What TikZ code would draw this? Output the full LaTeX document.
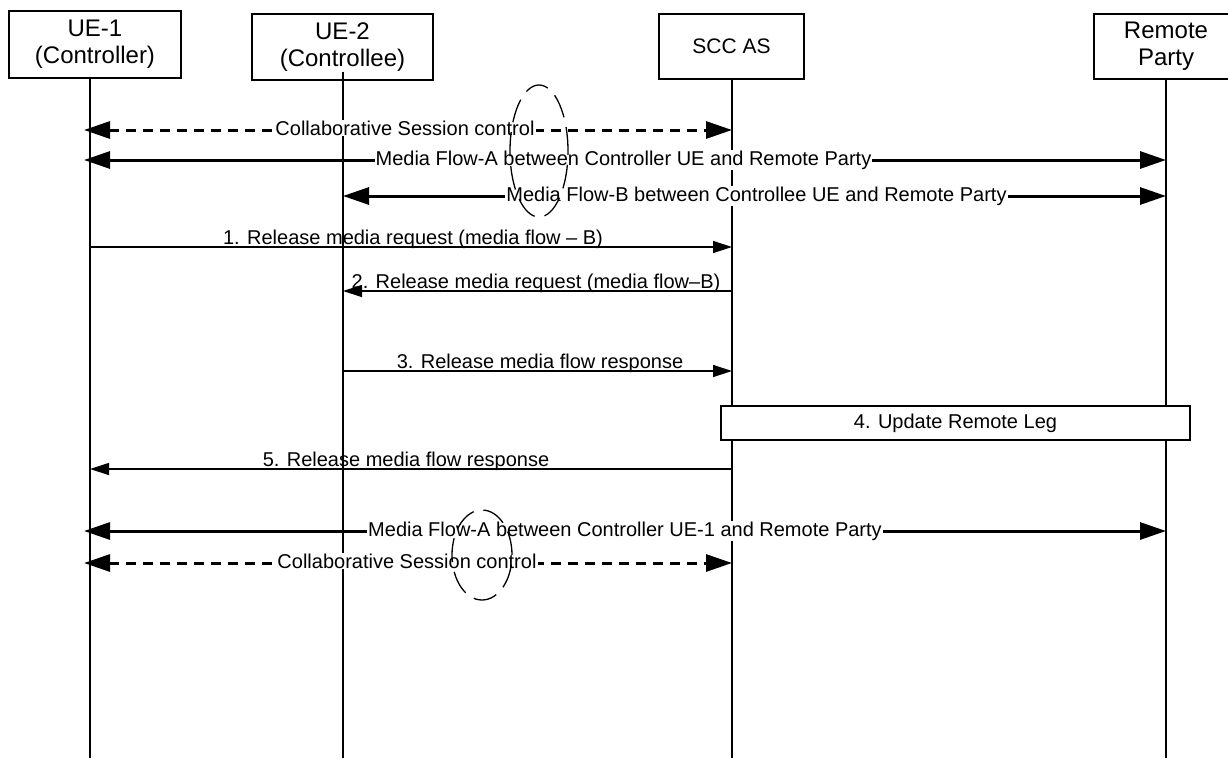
\documentclass[tikz,border=0pt]{standalone}
\usepackage{fontspec}
\setmainfont{Liberation Sans}
\usetikzlibrary{arrows.meta, positioning}

\begin{document}
\begin{tikzpicture}[x=1pt, y=-1pt, >={Triangle[length=26pt, width=17pt]}]
    \tikzstyle{entity} = [rectangle, draw, line width=1.2pt, fill=white, align=center, inner sep=0pt, font=\fontsize{24}{27}\selectfont]
    \tikzstyle{lifeline} = [line width=1.6pt]
    \tikzstyle{flow} = [line width=3pt, <->]
    \tikzstyle{control} = [line width=3pt, <->, dash pattern=on 10pt off 7pt]
    \tikzstyle{flowlabel} = [anchor=base, fill=white, inner sep=1pt, font=\fontsize{20}{24}\selectfont]
    \tikzstyle{msg} = [line width=1.2pt, ->, >={Triangle[length=19pt, width=12pt]}]
    \tikzstyle{msglabel} = [anchor=base, inner sep=0pt, font=\fontsize{20}{24}\selectfont]
    \tikzstyle{marker} = [line width=1.3pt, dash pattern=on 24pt off 10pt]

    \useasboundingbox (0,0) rectangle (1228,758);

    \node [entity, minimum width=172pt, minimum height=67pt] (ue1) at (95,44.5) {UE-1\\(Controller)};
    \node [entity, minimum width=181pt, minimum height=66pt] (ue2) at (342.5,47) {UE-2\\(Controllee)};
    \node [entity, minimum width=145pt, minimum height=65pt, font=\fontsize{21}{25}\selectfont] (scc) at (731.5,46.5) {SCC AS};
    \node [entity, minimum width=144pt, minimum height=65pt] (rp) at (1166,46.5) {Remote\\Party};

    \coordinate (l1) at (90,78);
    \coordinate (l2) at (343,72);
    \coordinate (l3) at (732,79);
    \coordinate (l4) at (1166,79);
    \coordinate (bottom) at (0,758);

    \draw [lifeline] (l1) -- (l1 |- bottom);
    \draw [lifeline] (l2) -- (l2 |- bottom);
    \draw [lifeline] (l3) -- (l3 |- bottom);
    \draw [lifeline] (l4) -- (l4 |- bottom);

    \coordinate (y1) at (0,130);
    \coordinate (y2) at (0,160);
    \coordinate (y3) at (0,196);
    \coordinate (y4) at (0,247);
    \coordinate (y5) at (0,291);
    \coordinate (y6) at (0,371);
    \coordinate (y7) at (0,469);
    \coordinate (y8) at (0,531);
    \coordinate (y9) at (0,563);

    \draw [control, shorten <=-6pt] (l1 |- y1) -- (l3 |- y1);
    \draw [flow, shorten <=-6pt] (l1 |- y2) -- (l4 |- y2);
    \draw [flow] (l2 |- y3) -- (l4 |- y3);
    \draw [msg] (l1 |- y4) -- (l3 |- y4);
    \draw [msg] (l3 |- y5) -- (l2 |- y5);
    \draw [msg] (l2 |- y6) -- (l3 |- y6);
    \draw [msg] (l3 |- y7) -- (l1 |- y7);
    \draw [flow, shorten <=-6pt] (l1 |- y8) -- (l4 |- y8);
    \draw [control, shorten <=-6pt] (l1 |- y9) -- (l3 |- y9);

    \node [flowlabel] (csc1) at (405,135) {Collaborative Session control};
    \node [flowlabel] (mfa1) at (623.5,165) {Media Flow-A between Controller UE and Remote Party};
    \node [flowlabel] (mfb) at (756.5,201) {Media Flow-B between Controllee UE and Remote Party};
    \node [msglabel] (m1) at (413,244.5) {1. Release media request (media flow -- B)};
    \node [msglabel] (m2) at (536,288.5) {2. Release media request (media flow--B)};
    \node [msglabel] (m3) at (540,368) {3. Release media flow response};
    \node [entity, minimum width=469pt, minimum height=34pt, font=\fontsize{20}{24}\selectfont] (upd) at (955.5,423) {4. Update Remote Leg};
    \node [msglabel] (m5) at (406,466.5) {5. Release media flow response};
    \node [flowlabel] (mfa2) at (625,536) {Media Flow-A between Controller UE-1 and Remote Party};
    \node [flowlabel] (csc2) at (407,568) {Collaborative Session control};

    \draw [marker] (539,151) ellipse [x radius=29pt, y radius=66pt];
    \draw [marker] (482,555) ellipse [x radius=30pt, y radius=45pt];
\end{tikzpicture}
\end{document}
